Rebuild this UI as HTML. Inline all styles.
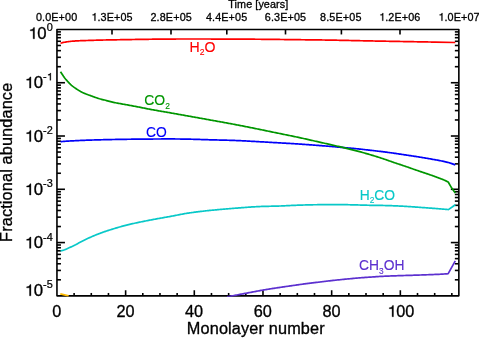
<!DOCTYPE html>
<html><head><meta charset="utf-8"><title>plot</title>
<style>
html,body{margin:0;padding:0;background:#fff;}
body{width:479px;height:338px;overflow:hidden;}
svg{display:block;will-change:transform;transform:translateZ(0);}
text{font-family:"Liberation Sans",sans-serif;fill:#000;stroke:#000;stroke-width:0.32px;stroke-linejoin:round;}
.big{font-size:16.3px;}
.one{fill:none;stroke:none;}
.sup{font-size:10.6px;stroke-width:0.25px;}
.sm{font-size:10.8px;stroke-width:0.3px;}
.lab{font-size:14.1px;}
.sub{font-size:8.5px;}
</style></head><body>
<svg width="479" height="338" viewBox="0 0 479 338">
<rect x="0" y="0" width="479" height="338" fill="#ffffff"/>
<defs><clipPath id="cp"><rect x="56.95" y="29.45" width="401.90000000000003" height="267.20000000000005"/></clipPath></defs>

<g stroke="#000" stroke-width="1.6" fill="none" stroke-linecap="butt" stroke-linejoin="round">
<rect x="56.95" y="29.45" width="401.90" height="266.40"/>
<path d="M74.12,295.85 V292.95"/>
<path d="M91.29,295.85 V292.95"/>
<path d="M108.46,295.85 V292.95"/>
<path d="M125.63,295.85 V290.25"/>
<path d="M142.80,295.85 V292.95"/>
<path d="M159.97,295.85 V292.95"/>
<path d="M177.14,295.85 V292.95"/>
<path d="M194.30,295.85 V290.25"/>
<path d="M211.47,295.85 V292.95"/>
<path d="M228.64,295.85 V292.95"/>
<path d="M245.81,295.85 V292.95"/>
<path d="M262.98,295.85 V290.25"/>
<path d="M280.15,295.85 V292.95"/>
<path d="M297.32,295.85 V292.95"/>
<path d="M314.49,295.85 V292.95"/>
<path d="M331.66,295.85 V290.25"/>
<path d="M348.83,295.85 V292.95"/>
<path d="M366.00,295.85 V292.95"/>
<path d="M383.17,295.85 V292.95"/>
<path d="M400.34,295.85 V290.25"/>
<path d="M417.51,295.85 V292.95"/>
<path d="M434.68,295.85 V292.95"/>
<path d="M451.84,295.85 V292.95"/>
<path d="M112.00,29.45 V34.45"/>
<path d="M171.00,29.45 V34.45"/>
<path d="M226.80,29.45 V34.45"/>
<path d="M285.50,29.45 V34.45"/>
<path d="M341.40,29.45 V34.45"/>
<path d="M400.00,29.45 V34.45"/>
<path d="M56.95,66.69 H60.95"/>
<path d="M458.85,66.69 H454.85"/>
<path d="M56.95,57.31 H60.95"/>
<path d="M458.85,57.31 H454.85"/>
<path d="M56.95,50.65 H60.95"/>
<path d="M458.85,50.65 H454.85"/>
<path d="M56.95,45.49 H60.95"/>
<path d="M458.85,45.49 H454.85"/>
<path d="M56.95,41.27 H60.95"/>
<path d="M458.85,41.27 H454.85"/>
<path d="M56.95,37.70 H60.95"/>
<path d="M458.85,37.70 H454.85"/>
<path d="M56.95,34.61 H60.95"/>
<path d="M458.85,34.61 H454.85"/>
<path d="M56.95,31.89 H60.95"/>
<path d="M458.85,31.89 H454.85"/>
<path d="M56.95,82.73 H64.95"/>
<path d="M458.85,82.73 H450.85"/>
<path d="M56.95,119.97 H60.95"/>
<path d="M458.85,119.97 H454.85"/>
<path d="M56.95,110.59 H60.95"/>
<path d="M458.85,110.59 H454.85"/>
<path d="M56.95,103.93 H60.95"/>
<path d="M458.85,103.93 H454.85"/>
<path d="M56.95,98.77 H60.95"/>
<path d="M458.85,98.77 H454.85"/>
<path d="M56.95,94.55 H60.95"/>
<path d="M458.85,94.55 H454.85"/>
<path d="M56.95,90.98 H60.95"/>
<path d="M458.85,90.98 H454.85"/>
<path d="M56.95,87.89 H60.95"/>
<path d="M458.85,87.89 H454.85"/>
<path d="M56.95,85.17 H60.95"/>
<path d="M458.85,85.17 H454.85"/>
<path d="M56.95,136.01 H64.95"/>
<path d="M458.85,136.01 H450.85"/>
<path d="M56.95,173.25 H60.95"/>
<path d="M458.85,173.25 H454.85"/>
<path d="M56.95,163.87 H60.95"/>
<path d="M458.85,163.87 H454.85"/>
<path d="M56.95,157.21 H60.95"/>
<path d="M458.85,157.21 H454.85"/>
<path d="M56.95,152.05 H60.95"/>
<path d="M458.85,152.05 H454.85"/>
<path d="M56.95,147.83 H60.95"/>
<path d="M458.85,147.83 H454.85"/>
<path d="M56.95,144.26 H60.95"/>
<path d="M458.85,144.26 H454.85"/>
<path d="M56.95,141.17 H60.95"/>
<path d="M458.85,141.17 H454.85"/>
<path d="M56.95,138.45 H60.95"/>
<path d="M458.85,138.45 H454.85"/>
<path d="M56.95,189.29 H64.95"/>
<path d="M458.85,189.29 H450.85"/>
<path d="M56.95,226.53 H60.95"/>
<path d="M458.85,226.53 H454.85"/>
<path d="M56.95,217.15 H60.95"/>
<path d="M458.85,217.15 H454.85"/>
<path d="M56.95,210.49 H60.95"/>
<path d="M458.85,210.49 H454.85"/>
<path d="M56.95,205.33 H60.95"/>
<path d="M458.85,205.33 H454.85"/>
<path d="M56.95,201.11 H60.95"/>
<path d="M458.85,201.11 H454.85"/>
<path d="M56.95,197.54 H60.95"/>
<path d="M458.85,197.54 H454.85"/>
<path d="M56.95,194.45 H60.95"/>
<path d="M458.85,194.45 H454.85"/>
<path d="M56.95,191.73 H60.95"/>
<path d="M458.85,191.73 H454.85"/>
<path d="M56.95,242.57 H64.95"/>
<path d="M458.85,242.57 H450.85"/>
<path d="M56.95,279.81 H60.95"/>
<path d="M458.85,279.81 H454.85"/>
<path d="M56.95,270.43 H60.95"/>
<path d="M458.85,270.43 H454.85"/>
<path d="M56.95,263.77 H60.95"/>
<path d="M458.85,263.77 H454.85"/>
<path d="M56.95,258.61 H60.95"/>
<path d="M458.85,258.61 H454.85"/>
<path d="M56.95,254.39 H60.95"/>
<path d="M458.85,254.39 H454.85"/>
<path d="M56.95,250.82 H60.95"/>
<path d="M458.85,250.82 H454.85"/>
<path d="M56.95,247.73 H60.95"/>
<path d="M458.85,247.73 H454.85"/>
<path d="M56.95,245.01 H60.95"/>
<path d="M458.85,245.01 H454.85"/>
</g>
<g fill="none" stroke-width="1.7" stroke-linejoin="round" stroke-linecap="butt" clip-path="url(#cp)">
<path d="M60.30,293.90 L68.60,295.85" stroke="#ffbb00"/>
<path d="M227.00,296.90 L228.00,296.70 L229.00,296.51 L230.00,296.31 L231.00,296.11 L232.00,295.92 L233.00,295.73 L234.00,295.53 L235.00,295.34 L236.00,295.15 L237.00,294.97 L238.00,294.78 L239.00,294.59 L240.00,294.40 L241.00,294.21 L242.00,294.02 L243.00,293.84 L244.00,293.65 L245.00,293.46 L246.00,293.27 L247.00,293.08 L248.00,292.89 L249.00,292.70 L250.00,292.51 L251.00,292.31 L252.00,292.12 L253.00,291.93 L254.00,291.73 L255.00,291.54 L256.00,291.35 L257.00,291.16 L258.00,290.97 L259.00,290.79 L260.00,290.60 L261.00,290.43 L262.00,290.25 L263.00,290.07 L264.00,289.90 L265.00,289.73 L266.00,289.57 L267.00,289.40 L268.00,289.24 L269.00,289.08 L270.00,288.92 L271.00,288.76 L272.00,288.60 L273.00,288.44 L274.00,288.29 L275.00,288.14 L276.00,287.99 L277.00,287.84 L278.00,287.69 L279.00,287.55 L280.00,287.40 L281.00,287.25 L282.00,287.11 L283.00,286.96 L284.00,286.82 L285.00,286.67 L286.00,286.53 L287.00,286.38 L288.00,286.24 L289.00,286.09 L290.00,285.95 L291.00,285.80 L292.00,285.66 L293.00,285.51 L294.00,285.37 L295.00,285.23 L296.00,285.08 L297.00,284.94 L298.00,284.80 L299.00,284.66 L300.00,284.52 L301.00,284.38 L302.00,284.24 L303.00,284.10 L304.00,283.96 L305.00,283.83 L306.00,283.69 L307.00,283.56 L308.00,283.43 L309.00,283.30 L310.00,283.17 L311.00,283.05 L312.00,282.93 L313.00,282.81 L314.00,282.69 L315.00,282.58 L316.00,282.46 L317.00,282.35 L318.00,282.23 L319.00,282.12 L320.00,282.00 L321.00,281.88 L322.00,281.76 L323.00,281.64 L324.00,281.52 L325.00,281.40 L326.00,281.27 L327.00,281.15 L328.00,281.03 L329.00,280.92 L330.00,280.80 L331.00,280.69 L332.00,280.57 L333.00,280.46 L334.00,280.35 L335.00,280.25 L336.00,280.14 L337.00,280.03 L338.00,279.93 L339.00,279.83 L340.00,279.72 L341.00,279.62 L342.00,279.52 L343.00,279.42 L344.00,279.32 L345.00,279.22 L346.00,279.12 L347.00,279.02 L348.00,278.92 L349.00,278.82 L350.00,278.73 L351.00,278.63 L352.00,278.54 L353.00,278.44 L354.00,278.35 L355.00,278.26 L356.00,278.17 L357.00,278.08 L358.00,278.00 L359.00,277.92 L360.00,277.84 L361.00,277.76 L362.00,277.69 L363.00,277.61 L364.00,277.54 L365.00,277.47 L366.00,277.40 L367.00,277.33 L368.00,277.26 L369.00,277.19 L370.00,277.12 L371.00,277.05 L372.00,276.98 L373.00,276.92 L374.00,276.85 L375.00,276.78 L376.00,276.71 L377.00,276.65 L378.00,276.59 L379.00,276.52 L380.00,276.46 L381.00,276.41 L382.00,276.35 L383.00,276.30 L384.00,276.25 L385.00,276.20 L386.00,276.16 L387.00,276.12 L388.00,276.07 L389.00,276.03 L390.00,276.00 L391.00,275.96 L392.00,275.92 L393.00,275.89 L394.00,275.85 L395.00,275.82 L396.00,275.78 L397.00,275.75 L398.00,275.72 L399.00,275.68 L400.00,275.65 L401.00,275.62 L402.00,275.59 L403.00,275.56 L404.00,275.52 L405.00,275.49 L406.00,275.46 L407.00,275.43 L408.00,275.40 L409.00,275.37 L410.00,275.34 L411.00,275.31 L412.00,275.28 L413.00,275.24 L414.00,275.21 L415.00,275.18 L416.00,275.15 L417.00,275.12 L418.00,275.09 L419.00,275.05 L420.00,275.02 L421.00,274.99 L422.00,274.95 L423.00,274.92 L424.00,274.88 L425.00,274.85 L426.00,274.81 L427.00,274.77 L428.00,274.74 L429.00,274.70 L430.00,274.66 L431.00,274.62 L432.00,274.58 L433.00,274.54 L434.00,274.50 L435.00,274.46 L436.00,274.41 L437.00,274.37 L438.00,274.32 L439.00,274.28 L440.00,274.23 L441.00,274.17 L442.00,274.12 L443.00,274.06 L444.00,274.00 L445.00,273.93 L446.00,273.86 L447.00,273.79 L448.00,273.72 L448.20,273.70 L451.80,267.20 L455.30,260.80" stroke="#5c30cf"/>
<path d="M60.60,250.90 L61.60,250.67 L62.60,250.41 L63.60,250.12 L64.60,249.78 L65.60,249.41 L66.60,248.98 L67.60,248.53 L68.60,248.06 L69.60,247.59 L70.60,247.12 L71.60,246.65 L72.60,246.17 L73.60,245.69 L74.60,245.20 L75.60,244.70 L76.60,244.17 L77.60,243.63 L78.60,243.09 L79.60,242.54 L80.60,242.01 L81.60,241.49 L82.60,240.98 L83.60,240.47 L84.60,239.98 L85.60,239.49 L86.60,239.01 L87.60,238.55 L88.60,238.09 L89.60,237.63 L90.60,237.19 L91.60,236.74 L92.60,236.31 L93.60,235.88 L94.60,235.46 L95.60,235.04 L96.60,234.64 L97.60,234.24 L98.60,233.85 L99.60,233.46 L100.60,233.09 L101.60,232.72 L102.60,232.36 L103.60,232.01 L104.60,231.67 L105.60,231.33 L106.60,231.00 L107.60,230.67 L108.60,230.35 L109.60,230.03 L110.60,229.71 L111.60,229.40 L112.60,229.09 L113.60,228.79 L114.60,228.48 L115.60,228.18 L116.60,227.88 L117.60,227.59 L118.60,227.30 L119.60,227.01 L120.60,226.72 L121.60,226.44 L122.60,226.17 L123.60,225.90 L124.60,225.63 L125.60,225.37 L126.60,225.12 L127.60,224.87 L128.60,224.62 L129.60,224.38 L130.60,224.15 L131.60,223.91 L132.60,223.68 L133.60,223.46 L134.60,223.24 L135.60,223.02 L136.60,222.80 L137.60,222.59 L138.60,222.37 L139.60,222.16 L140.60,221.96 L141.60,221.75 L142.60,221.55 L143.60,221.35 L144.60,221.16 L145.60,220.96 L146.60,220.77 L147.60,220.57 L148.60,220.38 L149.60,220.19 L150.60,220.00 L151.60,219.81 L152.60,219.62 L153.60,219.44 L154.60,219.25 L155.60,219.07 L156.60,218.88 L157.60,218.70 L158.60,218.52 L159.60,218.34 L160.60,218.16 L161.60,217.98 L162.60,217.81 L163.60,217.63 L164.60,217.45 L165.60,217.28 L166.60,217.11 L167.60,216.93 L168.60,216.75 L169.60,216.57 L170.60,216.39 L171.60,216.20 L172.60,216.01 L173.60,215.81 L174.60,215.61 L175.60,215.42 L176.60,215.22 L177.60,215.02 L178.60,214.82 L179.60,214.62 L180.60,214.43 L181.60,214.24 L182.60,214.05 L183.60,213.87 L184.60,213.70 L185.60,213.53 L186.60,213.37 L187.60,213.21 L188.60,213.06 L189.60,212.91 L190.60,212.76 L191.60,212.62 L192.60,212.48 L193.60,212.34 L194.60,212.20 L195.60,212.07 L196.60,211.94 L197.60,211.82 L198.60,211.69 L199.60,211.57 L200.60,211.45 L201.60,211.33 L202.60,211.22 L203.60,211.11 L204.60,211.00 L205.60,210.89 L206.60,210.78 L207.60,210.68 L208.60,210.57 L209.60,210.47 L210.60,210.37 L211.60,210.27 L212.60,210.17 L213.60,210.08 L214.60,209.98 L215.60,209.89 L216.60,209.79 L217.60,209.70 L218.60,209.61 L219.60,209.52 L220.60,209.43 L221.60,209.35 L222.60,209.26 L223.60,209.17 L224.60,209.09 L225.60,209.00 L226.60,208.92 L227.60,208.84 L228.60,208.76 L229.60,208.67 L230.60,208.59 L231.60,208.51 L232.60,208.43 L233.60,208.35 L234.60,208.27 L235.60,208.19 L236.60,208.11 L237.60,208.03 L238.60,207.95 L239.60,207.87 L240.60,207.79 L241.60,207.71 L242.60,207.63 L243.60,207.55 L244.60,207.48 L245.60,207.40 L246.60,207.32 L247.60,207.25 L248.60,207.18 L249.60,207.11 L250.60,207.04 L251.60,206.97 L252.60,206.91 L253.60,206.85 L254.60,206.79 L255.60,206.73 L256.60,206.68 L257.60,206.63 L258.60,206.58 L259.60,206.54 L260.60,206.50 L261.60,206.46 L262.60,206.43 L263.60,206.40 L264.60,206.37 L265.60,206.35 L266.60,206.32 L267.60,206.30 L268.60,206.28 L269.60,206.26 L270.60,206.24 L271.60,206.22 L272.60,206.19 L273.60,206.17 L274.60,206.15 L275.60,206.13 L276.60,206.10 L277.60,206.07 L278.60,206.05 L279.60,206.01 L280.60,205.98 L281.60,205.94 L282.60,205.90 L283.60,205.85 L284.60,205.81 L285.60,205.76 L286.60,205.71 L287.60,205.66 L288.60,205.61 L289.60,205.56 L290.60,205.51 L291.60,205.46 L292.60,205.41 L293.60,205.37 L294.60,205.32 L295.60,205.28 L296.60,205.25 L297.60,205.21 L298.60,205.18 L299.60,205.14 L300.60,205.11 L301.60,205.07 L302.60,205.04 L303.60,205.01 L304.60,204.98 L305.60,204.95 L306.60,204.93 L307.60,204.90 L308.60,204.88 L309.60,204.85 L310.60,204.83 L311.60,204.81 L312.60,204.79 L313.60,204.77 L314.60,204.76 L315.60,204.74 L316.60,204.73 L317.60,204.72 L318.60,204.71 L319.60,204.70 L320.60,204.70 L321.60,204.69 L322.60,204.69 L323.60,204.68 L324.60,204.68 L325.60,204.68 L326.60,204.67 L327.60,204.67 L328.60,204.67 L329.60,204.66 L330.60,204.66 L331.60,204.66 L332.60,204.66 L333.60,204.66 L334.60,204.66 L335.60,204.66 L336.60,204.66 L337.60,204.66 L338.60,204.67 L339.60,204.67 L340.60,204.67 L341.60,204.68 L342.60,204.68 L343.60,204.69 L344.60,204.69 L345.60,204.70 L346.60,204.71 L347.60,204.72 L348.60,204.74 L349.60,204.76 L350.60,204.78 L351.60,204.80 L352.60,204.83 L353.60,204.85 L354.60,204.88 L355.60,204.91 L356.60,204.94 L357.60,204.96 L358.60,204.99 L359.60,205.02 L360.60,205.04 L361.60,205.07 L362.60,205.10 L363.60,205.13 L364.60,205.15 L365.60,205.18 L366.60,205.21 L367.60,205.23 L368.60,205.26 L369.60,205.28 L370.60,205.30 L371.60,205.32 L372.60,205.33 L373.60,205.35 L374.60,205.36 L375.60,205.38 L376.60,205.39 L377.60,205.40 L378.60,205.41 L379.60,205.43 L380.60,205.44 L381.60,205.45 L382.60,205.47 L383.60,205.49 L384.60,205.51 L385.60,205.53 L386.60,205.56 L387.60,205.58 L388.60,205.61 L389.60,205.64 L390.60,205.67 L391.60,205.71 L392.60,205.75 L393.60,205.79 L394.60,205.83 L395.60,205.87 L396.60,205.91 L397.60,205.96 L398.60,206.01 L399.60,206.05 L400.60,206.10 L401.60,206.16 L402.60,206.21 L403.60,206.26 L404.60,206.32 L405.60,206.38 L406.60,206.44 L407.60,206.50 L408.60,206.56 L409.60,206.62 L410.60,206.68 L411.60,206.75 L412.60,206.82 L413.60,206.90 L414.60,206.97 L415.60,207.05 L416.60,207.12 L417.60,207.20 L418.60,207.27 L419.60,207.34 L420.60,207.42 L421.60,207.49 L422.60,207.56 L423.60,207.63 L424.60,207.70 L425.60,207.77 L426.60,207.84 L427.60,207.92 L428.60,207.99 L429.60,208.06 L430.60,208.13 L431.60,208.21 L432.60,208.28 L433.60,208.36 L434.60,208.43 L435.60,208.51 L436.60,208.58 L437.60,208.66 L438.60,208.74 L439.60,208.82 L440.60,208.90 L441.60,208.99 L442.60,209.07 L443.60,209.16 L444.60,209.24 L445.60,209.34 L446.60,209.43 L447.60,209.52 L448.40,209.60 L451.80,207.30 L455.30,204.80" stroke="#08c8c8"/>
<path d="M60.60,141.70 L61.60,141.61 L62.60,141.52 L63.60,141.44 L64.60,141.35 L65.60,141.27 L66.60,141.20 L67.60,141.13 L68.60,141.06 L69.60,141.00 L70.60,140.94 L71.60,140.88 L72.60,140.83 L73.60,140.78 L74.60,140.73 L75.60,140.68 L76.60,140.63 L77.60,140.59 L78.60,140.54 L79.60,140.50 L80.60,140.45 L81.60,140.41 L82.60,140.37 L83.60,140.33 L84.60,140.29 L85.60,140.25 L86.60,140.21 L87.60,140.18 L88.60,140.14 L89.60,140.11 L90.60,140.08 L91.60,140.05 L92.60,140.01 L93.60,139.98 L94.60,139.95 L95.60,139.93 L96.60,139.90 L97.60,139.87 L98.60,139.84 L99.60,139.82 L100.60,139.79 L101.60,139.77 L102.60,139.74 L103.60,139.72 L104.60,139.70 L105.60,139.67 L106.60,139.65 L107.60,139.63 L108.60,139.61 L109.60,139.58 L110.60,139.56 L111.60,139.54 L112.60,139.52 L113.60,139.50 L114.60,139.48 L115.60,139.46 L116.60,139.44 L117.60,139.43 L118.60,139.41 L119.60,139.39 L120.60,139.37 L121.60,139.36 L122.60,139.34 L123.60,139.33 L124.60,139.31 L125.60,139.30 L126.60,139.29 L127.60,139.27 L128.60,139.26 L129.60,139.25 L130.60,139.23 L131.60,139.22 L132.60,139.21 L133.60,139.20 L134.60,139.19 L135.60,139.18 L136.60,139.17 L137.60,139.16 L138.60,139.15 L139.60,139.14 L140.60,139.13 L141.60,139.12 L142.60,139.11 L143.60,139.10 L144.60,139.09 L145.60,139.08 L146.60,139.08 L147.60,139.07 L148.60,139.06 L149.60,139.05 L150.60,139.05 L151.60,139.04 L152.60,139.03 L153.60,139.02 L154.60,139.02 L155.60,139.01 L156.60,139.00 L157.60,138.99 L158.60,138.99 L159.60,138.98 L160.60,138.98 L161.60,138.97 L162.60,138.97 L163.60,138.96 L164.60,138.96 L165.60,138.95 L166.60,138.95 L167.60,138.95 L168.60,138.95 L169.60,138.95 L170.60,138.95 L171.60,138.95 L172.60,138.96 L173.60,138.96 L174.60,138.97 L175.60,138.98 L176.60,138.98 L177.60,138.99 L178.60,139.01 L179.60,139.02 L180.60,139.03 L181.60,139.04 L182.60,139.06 L183.60,139.07 L184.60,139.09 L185.60,139.11 L186.60,139.13 L187.60,139.15 L188.60,139.17 L189.60,139.19 L190.60,139.21 L191.60,139.24 L192.60,139.27 L193.60,139.29 L194.60,139.32 L195.60,139.35 L196.60,139.38 L197.60,139.41 L198.60,139.44 L199.60,139.47 L200.60,139.51 L201.60,139.54 L202.60,139.57 L203.60,139.60 L204.60,139.63 L205.60,139.66 L206.60,139.69 L207.60,139.72 L208.60,139.75 L209.60,139.78 L210.60,139.81 L211.60,139.84 L212.60,139.86 L213.60,139.89 L214.60,139.91 L215.60,139.94 L216.60,139.96 L217.60,139.99 L218.60,140.01 L219.60,140.04 L220.60,140.06 L221.60,140.09 L222.60,140.11 L223.60,140.14 L224.60,140.16 L225.60,140.19 L226.60,140.22 L227.60,140.24 L228.60,140.27 L229.60,140.30 L230.60,140.33 L231.60,140.36 L232.60,140.40 L233.60,140.43 L234.60,140.47 L235.60,140.50 L236.60,140.54 L237.60,140.58 L238.60,140.62 L239.60,140.67 L240.60,140.71 L241.60,140.76 L242.60,140.81 L243.60,140.86 L244.60,140.91 L245.60,140.96 L246.60,141.01 L247.60,141.07 L248.60,141.12 L249.60,141.18 L250.60,141.23 L251.60,141.29 L252.60,141.35 L253.60,141.40 L254.60,141.46 L255.60,141.52 L256.60,141.57 L257.60,141.63 L258.60,141.69 L259.60,141.74 L260.60,141.80 L261.60,141.86 L262.60,141.91 L263.60,141.97 L264.60,142.02 L265.60,142.08 L266.60,142.14 L267.60,142.19 L268.60,142.25 L269.60,142.31 L270.60,142.36 L271.60,142.42 L272.60,142.48 L273.60,142.53 L274.60,142.59 L275.60,142.65 L276.60,142.71 L277.60,142.76 L278.60,142.82 L279.60,142.88 L280.60,142.93 L281.60,142.99 L282.60,143.05 L283.60,143.11 L284.60,143.16 L285.60,143.22 L286.60,143.28 L287.60,143.34 L288.60,143.40 L289.60,143.46 L290.60,143.52 L291.60,143.58 L292.60,143.64 L293.60,143.70 L294.60,143.76 L295.60,143.83 L296.60,143.89 L297.60,143.96 L298.60,144.02 L299.60,144.09 L300.60,144.16 L301.60,144.22 L302.60,144.29 L303.60,144.36 L304.60,144.43 L305.60,144.50 L306.60,144.57 L307.60,144.64 L308.60,144.72 L309.60,144.79 L310.60,144.86 L311.60,144.94 L312.60,145.01 L313.60,145.09 L314.60,145.16 L315.60,145.24 L316.60,145.31 L317.60,145.39 L318.60,145.47 L319.60,145.55 L320.60,145.62 L321.60,145.70 L322.60,145.78 L323.60,145.86 L324.60,145.94 L325.60,146.02 L326.60,146.10 L327.60,146.19 L328.60,146.27 L329.60,146.35 L330.60,146.43 L331.60,146.52 L332.60,146.60 L333.60,146.69 L334.60,146.77 L335.60,146.86 L336.60,146.94 L337.60,147.03 L338.60,147.12 L339.60,147.20 L340.60,147.29 L341.60,147.38 L342.60,147.46 L343.60,147.55 L344.60,147.64 L345.60,147.73 L346.60,147.82 L347.60,147.91 L348.60,148.00 L349.60,148.09 L350.60,148.18 L351.60,148.27 L352.60,148.37 L353.60,148.46 L354.60,148.56 L355.60,148.66 L356.60,148.76 L357.60,148.86 L358.60,148.96 L359.60,149.06 L360.60,149.17 L361.60,149.28 L362.60,149.39 L363.60,149.50 L364.60,149.61 L365.60,149.73 L366.60,149.84 L367.60,149.95 L368.60,150.07 L369.60,150.19 L370.60,150.30 L371.60,150.41 L372.60,150.53 L373.60,150.64 L374.60,150.76 L375.60,150.87 L376.60,150.99 L377.60,151.10 L378.60,151.22 L379.60,151.34 L380.60,151.46 L381.60,151.58 L382.60,151.70 L383.60,151.82 L384.60,151.95 L385.60,152.08 L386.60,152.21 L387.60,152.34 L388.60,152.48 L389.60,152.61 L390.60,152.75 L391.60,152.89 L392.60,153.03 L393.60,153.17 L394.60,153.31 L395.60,153.46 L396.60,153.60 L397.60,153.75 L398.60,153.90 L399.60,154.04 L400.60,154.19 L401.60,154.34 L402.60,154.49 L403.60,154.64 L404.60,154.79 L405.60,154.94 L406.60,155.09 L407.60,155.24 L408.60,155.39 L409.60,155.55 L410.60,155.70 L411.60,155.85 L412.60,156.00 L413.60,156.15 L414.60,156.31 L415.60,156.46 L416.60,156.62 L417.60,156.78 L418.60,156.94 L419.60,157.10 L420.60,157.26 L421.60,157.42 L422.60,157.59 L423.60,157.75 L424.60,157.92 L425.60,158.08 L426.60,158.25 L427.60,158.42 L428.60,158.60 L429.60,158.77 L430.60,158.94 L431.60,159.12 L432.60,159.29 L433.60,159.47 L434.60,159.65 L435.60,159.83 L436.60,160.01 L437.60,160.20 L438.60,160.39 L439.60,160.58 L440.60,160.77 L441.60,160.97 L442.60,161.18 L443.60,161.39 L444.60,161.61 L445.60,161.84 L446.60,162.07 L447.60,162.31 L448.40,162.50 L451.80,163.60 L455.30,164.90" stroke="#0000fa"/>
<path d="M60.50,71.70 L61.50,73.26 L62.50,74.80 L63.50,76.32 L64.50,77.73 L65.50,78.99 L66.50,80.14 L67.50,81.25 L68.50,82.35 L69.50,83.41 L70.50,84.40 L71.50,85.29 L72.50,86.11 L73.50,86.88 L74.50,87.61 L75.50,88.30 L76.50,88.97 L77.50,89.62 L78.50,90.26 L79.50,90.86 L80.50,91.42 L81.50,91.94 L82.50,92.44 L83.50,92.90 L84.50,93.35 L85.50,93.77 L86.50,94.18 L87.50,94.57 L88.50,94.94 L89.50,95.30 L90.50,95.66 L91.50,96.01 L92.50,96.36 L93.50,96.73 L94.50,97.09 L95.50,97.46 L96.50,97.81 L97.50,98.16 L98.50,98.48 L99.50,98.78 L100.50,99.05 L101.50,99.31 L102.50,99.56 L103.50,99.80 L104.50,100.05 L105.50,100.30 L106.50,100.56 L107.50,100.83 L108.50,101.09 L109.50,101.36 L110.50,101.61 L111.50,101.87 L112.50,102.11 L113.50,102.34 L114.50,102.55 L115.50,102.76 L116.50,102.96 L117.50,103.16 L118.50,103.35 L119.50,103.53 L120.50,103.71 L121.50,103.89 L122.50,104.07 L123.50,104.24 L124.50,104.42 L125.50,104.60 L126.50,104.78 L127.50,104.96 L128.50,105.14 L129.50,105.32 L130.50,105.50 L131.50,105.68 L132.50,105.87 L133.50,106.05 L134.50,106.24 L135.50,106.42 L136.50,106.61 L137.50,106.80 L138.50,107.00 L139.50,107.19 L140.50,107.39 L141.50,107.59 L142.50,107.80 L143.50,108.00 L144.50,108.20 L145.50,108.40 L146.50,108.60 L147.50,108.80 L148.50,109.00 L149.50,109.19 L150.50,109.38 L151.50,109.57 L152.50,109.75 L153.50,109.93 L154.50,110.10 L155.50,110.28 L156.50,110.45 L157.50,110.62 L158.50,110.80 L159.50,110.97 L160.50,111.14 L161.50,111.31 L162.50,111.48 L163.50,111.65 L164.50,111.83 L165.50,112.00 L166.50,112.17 L167.50,112.35 L168.50,112.53 L169.50,112.70 L170.50,112.88 L171.50,113.06 L172.50,113.23 L173.50,113.41 L174.50,113.59 L175.50,113.77 L176.50,113.94 L177.50,114.12 L178.50,114.30 L179.50,114.48 L180.50,114.66 L181.50,114.84 L182.50,115.02 L183.50,115.20 L184.50,115.37 L185.50,115.55 L186.50,115.73 L187.50,115.91 L188.50,116.09 L189.50,116.27 L190.50,116.45 L191.50,116.63 L192.50,116.81 L193.50,116.99 L194.50,117.17 L195.50,117.34 L196.50,117.52 L197.50,117.70 L198.50,117.88 L199.50,118.06 L200.50,118.24 L201.50,118.42 L202.50,118.60 L203.50,118.78 L204.50,118.96 L205.50,119.14 L206.50,119.32 L207.50,119.50 L208.50,119.68 L209.50,119.86 L210.50,120.04 L211.50,120.22 L212.50,120.40 L213.50,120.57 L214.50,120.75 L215.50,120.93 L216.50,121.11 L217.50,121.29 L218.50,121.47 L219.50,121.65 L220.50,121.83 L221.50,122.01 L222.50,122.19 L223.50,122.38 L224.50,122.56 L225.50,122.74 L226.50,122.92 L227.50,123.11 L228.50,123.29 L229.50,123.47 L230.50,123.66 L231.50,123.85 L232.50,124.03 L233.50,124.22 L234.50,124.41 L235.50,124.60 L236.50,124.79 L237.50,124.98 L238.50,125.18 L239.50,125.37 L240.50,125.56 L241.50,125.76 L242.50,125.95 L243.50,126.15 L244.50,126.35 L245.50,126.55 L246.50,126.75 L247.50,126.95 L248.50,127.15 L249.50,127.35 L250.50,127.55 L251.50,127.75 L252.50,127.95 L253.50,128.15 L254.50,128.36 L255.50,128.56 L256.50,128.76 L257.50,128.97 L258.50,129.17 L259.50,129.38 L260.50,129.58 L261.50,129.78 L262.50,129.99 L263.50,130.19 L264.50,130.40 L265.50,130.61 L266.50,130.81 L267.50,131.02 L268.50,131.23 L269.50,131.44 L270.50,131.64 L271.50,131.85 L272.50,132.06 L273.50,132.26 L274.50,132.47 L275.50,132.68 L276.50,132.88 L277.50,133.09 L278.50,133.29 L279.50,133.50 L280.50,133.70 L281.50,133.91 L282.50,134.11 L283.50,134.31 L284.50,134.51 L285.50,134.71 L286.50,134.91 L287.50,135.12 L288.50,135.32 L289.50,135.52 L290.50,135.72 L291.50,135.93 L292.50,136.14 L293.50,136.34 L294.50,136.55 L295.50,136.76 L296.50,136.98 L297.50,137.19 L298.50,137.41 L299.50,137.62 L300.50,137.84 L301.50,138.06 L302.50,138.28 L303.50,138.50 L304.50,138.72 L305.50,138.95 L306.50,139.17 L307.50,139.40 L308.50,139.62 L309.50,139.85 L310.50,140.07 L311.50,140.30 L312.50,140.53 L313.50,140.75 L314.50,140.98 L315.50,141.21 L316.50,141.44 L317.50,141.66 L318.50,141.89 L319.50,142.12 L320.50,142.35 L321.50,142.57 L322.50,142.80 L323.50,143.02 L324.50,143.25 L325.50,143.48 L326.50,143.70 L327.50,143.93 L328.50,144.15 L329.50,144.38 L330.50,144.61 L331.50,144.83 L332.50,145.06 L333.50,145.29 L334.50,145.52 L335.50,145.75 L336.50,145.98 L337.50,146.21 L338.50,146.44 L339.50,146.68 L340.50,146.91 L341.50,147.14 L342.50,147.38 L343.50,147.62 L344.50,147.86 L345.50,148.10 L346.50,148.34 L347.50,148.58 L348.50,148.82 L349.50,149.07 L350.50,149.32 L351.50,149.56 L352.50,149.81 L353.50,150.07 L354.50,150.32 L355.50,150.58 L356.50,150.84 L357.50,151.10 L358.50,151.37 L359.50,151.63 L360.50,151.91 L361.50,152.18 L362.50,152.46 L363.50,152.74 L364.50,153.02 L365.50,153.31 L366.50,153.59 L367.50,153.89 L368.50,154.18 L369.50,154.47 L370.50,154.77 L371.50,155.07 L372.50,155.37 L373.50,155.67 L374.50,155.98 L375.50,156.29 L376.50,156.60 L377.50,156.91 L378.50,157.23 L379.50,157.55 L380.50,157.88 L381.50,158.20 L382.50,158.53 L383.50,158.86 L384.50,159.20 L385.50,159.54 L386.50,159.89 L387.50,160.24 L388.50,160.60 L389.50,160.95 L390.50,161.30 L391.50,161.65 L392.50,162.00 L393.50,162.34 L394.50,162.68 L395.50,163.02 L396.50,163.35 L397.50,163.69 L398.50,164.02 L399.50,164.35 L400.50,164.68 L401.50,165.02 L402.50,165.35 L403.50,165.69 L404.50,166.03 L405.50,166.37 L406.50,166.72 L407.50,167.07 L408.50,167.42 L409.50,167.77 L410.50,168.12 L411.50,168.47 L412.50,168.82 L413.50,169.18 L414.50,169.53 L415.50,169.88 L416.50,170.22 L417.50,170.57 L418.50,170.91 L419.50,171.24 L420.50,171.58 L421.50,171.91 L422.50,172.24 L423.50,172.57 L424.50,172.90 L425.50,173.24 L426.50,173.57 L427.50,173.91 L428.50,174.25 L429.50,174.59 L430.50,174.94 L431.50,175.29 L432.50,175.65 L433.50,176.01 L434.50,176.37 L435.50,176.74 L436.50,177.10 L437.50,177.47 L438.50,177.84 L439.50,178.21 L440.50,178.59 L441.50,178.96 L442.50,179.34 L443.50,179.74 L444.50,180.18 L445.50,180.64 L446.50,181.13 L447.50,181.64 L448.20,182.00 L451.70,188.10 L455.30,193.10" stroke="#009600"/>
<path d="M60.50,43.30 L61.50,42.95 L62.50,42.67 L63.50,42.45 L64.50,42.25 L65.50,42.06 L66.50,41.89 L67.50,41.73 L68.50,41.59 L69.50,41.47 L70.50,41.36 L71.50,41.27 L72.50,41.18 L73.50,41.10 L74.50,41.03 L75.50,40.97 L76.50,40.91 L77.50,40.86 L78.50,40.81 L79.50,40.76 L80.50,40.72 L81.50,40.68 L82.50,40.64 L83.50,40.61 L84.50,40.57 L85.50,40.54 L86.50,40.51 L87.50,40.48 L88.50,40.45 L89.50,40.42 L90.50,40.38 L91.50,40.35 L92.50,40.32 L93.50,40.29 L94.50,40.26 L95.50,40.23 L96.50,40.20 L97.50,40.17 L98.50,40.14 L99.50,40.11 L100.50,40.09 L101.50,40.06 L102.50,40.04 L103.50,40.02 L104.50,40.00 L105.50,39.98 L106.50,39.96 L107.50,39.94 L108.50,39.93 L109.50,39.91 L110.50,39.89 L111.50,39.87 L112.50,39.86 L113.50,39.84 L114.50,39.82 L115.50,39.80 L116.50,39.78 L117.50,39.77 L118.50,39.75 L119.50,39.73 L120.50,39.71 L121.50,39.70 L122.50,39.68 L123.50,39.66 L124.50,39.65 L125.50,39.63 L126.50,39.61 L127.50,39.60 L128.50,39.58 L129.50,39.56 L130.50,39.55 L131.50,39.53 L132.50,39.51 L133.50,39.50 L134.50,39.48 L135.50,39.47 L136.50,39.45 L137.50,39.44 L138.50,39.42 L139.50,39.41 L140.50,39.39 L141.50,39.38 L142.50,39.36 L143.50,39.35 L144.50,39.33 L145.50,39.32 L146.50,39.31 L147.50,39.29 L148.50,39.28 L149.50,39.26 L150.50,39.25 L151.50,39.23 L152.50,39.22 L153.50,39.21 L154.50,39.20 L155.50,39.18 L156.50,39.17 L157.50,39.16 L158.50,39.15 L159.50,39.14 L160.50,39.12 L161.50,39.11 L162.50,39.10 L163.50,39.10 L164.50,39.09 L165.50,39.08 L166.50,39.07 L167.50,39.06 L168.50,39.06 L169.50,39.05 L170.50,39.05 L171.50,39.04 L172.50,39.04 L173.50,39.03 L174.50,39.03 L175.50,39.03 L176.50,39.02 L177.50,39.02 L178.50,39.02 L179.50,39.01 L180.50,39.01 L181.50,39.01 L182.50,39.01 L183.50,39.01 L184.50,39.00 L185.50,39.00 L186.50,39.00 L187.50,39.00 L188.50,39.00 L189.50,39.00 L190.50,39.00 L191.50,39.00 L192.50,39.00 L193.50,39.00 L194.50,39.00 L195.50,39.00 L196.50,39.00 L197.50,39.00 L198.50,39.00 L199.50,39.00 L200.50,39.00 L201.50,39.00 L202.50,39.00 L203.50,39.00 L204.50,39.01 L205.50,39.01 L206.50,39.01 L207.50,39.01 L208.50,39.02 L209.50,39.02 L210.50,39.02 L211.50,39.03 L212.50,39.03 L213.50,39.03 L214.50,39.04 L215.50,39.04 L216.50,39.04 L217.50,39.05 L218.50,39.05 L219.50,39.06 L220.50,39.06 L221.50,39.06 L222.50,39.07 L223.50,39.07 L224.50,39.08 L225.50,39.08 L226.50,39.09 L227.50,39.09 L228.50,39.09 L229.50,39.10 L230.50,39.10 L231.50,39.11 L232.50,39.11 L233.50,39.11 L234.50,39.12 L235.50,39.12 L236.50,39.13 L237.50,39.13 L238.50,39.14 L239.50,39.14 L240.50,39.15 L241.50,39.15 L242.50,39.16 L243.50,39.16 L244.50,39.17 L245.50,39.17 L246.50,39.18 L247.50,39.18 L248.50,39.19 L249.50,39.19 L250.50,39.20 L251.50,39.21 L252.50,39.21 L253.50,39.22 L254.50,39.22 L255.50,39.23 L256.50,39.24 L257.50,39.25 L258.50,39.25 L259.50,39.26 L260.50,39.27 L261.50,39.28 L262.50,39.28 L263.50,39.29 L264.50,39.30 L265.50,39.31 L266.50,39.32 L267.50,39.33 L268.50,39.34 L269.50,39.35 L270.50,39.35 L271.50,39.37 L272.50,39.38 L273.50,39.39 L274.50,39.40 L275.50,39.41 L276.50,39.42 L277.50,39.44 L278.50,39.45 L279.50,39.46 L280.50,39.48 L281.50,39.49 L282.50,39.50 L283.50,39.52 L284.50,39.53 L285.50,39.54 L286.50,39.56 L287.50,39.57 L288.50,39.58 L289.50,39.59 L290.50,39.61 L291.50,39.62 L292.50,39.63 L293.50,39.64 L294.50,39.65 L295.50,39.67 L296.50,39.68 L297.50,39.69 L298.50,39.70 L299.50,39.71 L300.50,39.72 L301.50,39.73 L302.50,39.74 L303.50,39.76 L304.50,39.77 L305.50,39.78 L306.50,39.79 L307.50,39.80 L308.50,39.81 L309.50,39.82 L310.50,39.84 L311.50,39.85 L312.50,39.86 L313.50,39.87 L314.50,39.88 L315.50,39.90 L316.50,39.91 L317.50,39.92 L318.50,39.93 L319.50,39.95 L320.50,39.96 L321.50,39.97 L322.50,39.99 L323.50,40.00 L324.50,40.02 L325.50,40.03 L326.50,40.04 L327.50,40.06 L328.50,40.08 L329.50,40.09 L330.50,40.11 L331.50,40.13 L332.50,40.14 L333.50,40.16 L334.50,40.18 L335.50,40.20 L336.50,40.22 L337.50,40.24 L338.50,40.26 L339.50,40.28 L340.50,40.30 L341.50,40.32 L342.50,40.34 L343.50,40.36 L344.50,40.38 L345.50,40.41 L346.50,40.43 L347.50,40.45 L348.50,40.47 L349.50,40.49 L350.50,40.52 L351.50,40.54 L352.50,40.56 L353.50,40.58 L354.50,40.60 L355.50,40.63 L356.50,40.65 L357.50,40.67 L358.50,40.69 L359.50,40.71 L360.50,40.73 L361.50,40.75 L362.50,40.77 L363.50,40.79 L364.50,40.81 L365.50,40.83 L366.50,40.85 L367.50,40.87 L368.50,40.89 L369.50,40.91 L370.50,40.93 L371.50,40.95 L372.50,40.97 L373.50,40.99 L374.50,41.01 L375.50,41.03 L376.50,41.05 L377.50,41.07 L378.50,41.09 L379.50,41.11 L380.50,41.12 L381.50,41.14 L382.50,41.16 L383.50,41.18 L384.50,41.20 L385.50,41.22 L386.50,41.24 L387.50,41.25 L388.50,41.27 L389.50,41.29 L390.50,41.31 L391.50,41.33 L392.50,41.34 L393.50,41.36 L394.50,41.38 L395.50,41.40 L396.50,41.42 L397.50,41.43 L398.50,41.45 L399.50,41.47 L400.50,41.48 L401.50,41.50 L402.50,41.52 L403.50,41.54 L404.50,41.55 L405.50,41.57 L406.50,41.59 L407.50,41.61 L408.50,41.62 L409.50,41.64 L410.50,41.66 L411.50,41.68 L412.50,41.69 L413.50,41.71 L414.50,41.73 L415.50,41.75 L416.50,41.77 L417.50,41.78 L418.50,41.80 L419.50,41.82 L420.50,41.84 L421.50,41.86 L422.50,41.87 L423.50,41.89 L424.50,41.91 L425.50,41.93 L426.50,41.95 L427.50,41.96 L428.50,41.98 L429.50,42.00 L430.50,42.02 L431.50,42.04 L432.50,42.05 L433.50,42.07 L434.50,42.09 L435.00,42.10 L455.30,42.50" stroke="#ff0000"/>
</g>
<text class="lab" transform="translate(189.6,51.9) scale(1.0,1)" style="fill:#ff0000;stroke:#ff0000;stroke-width:0.13px">H<tspan class="sub" dy="3.1">2</tspan><tspan dy="-3.1" font-size="0.1">&#8203;</tspan>O</text>
<text class="lab" transform="translate(144.2,105.4) scale(0.99,1)" style="fill:#009600;stroke:#009600;stroke-width:0.13px">CO<tspan class="sub" dy="3.4">2</tspan><tspan dy="-3.4" font-size="0.1">&#8203;</tspan></text>
<text class="lab" transform="translate(146.1,137.1) scale(0.982,1)" style="fill:#0000fa;stroke:#0000fa;stroke-width:0.13px">CO</text>
<text class="lab" transform="translate(359.7,199.7) scale(0.982,1)" style="fill:#08c8c8;stroke:#08c8c8;stroke-width:0.13px">H<tspan class="sub" dy="3.7">2</tspan><tspan dy="-3.7" font-size="0.1">&#8203;</tspan>CO</text>
<text class="lab" transform="translate(359.1,270.0) scale(0.982,1)" style="fill:#5c30cf;stroke:#5c30cf;stroke-width:0.13px">CH<tspan class="sub" dy="3.7">3</tspan><tspan dy="-3.7" font-size="0.1">&#8203;</tspan>OH</text>
<text class="big" transform="translate(52.8,38.8) scale(1.03,0.97)" text-anchor="end"><tspan class="one">1</tspan>0<tspan class="sup" dy="-8.0">0</tspan></text>
<text class="big" transform="translate(52.8,88.1) scale(1.03,0.97)" text-anchor="end"><tspan class="one">1</tspan>0<tspan class="sup" dy="-8.0">-<tspan class="one">1</tspan></tspan></text>
<text class="big" transform="translate(52.8,141.6) scale(1.03,0.97)" text-anchor="end"><tspan class="one">1</tspan>0<tspan class="sup" dy="-8.0">-2</tspan></text>
<text class="big" transform="translate(52.8,195.0) scale(1.03,0.97)" text-anchor="end"><tspan class="one">1</tspan>0<tspan class="sup" dy="-8.0">-3</tspan></text>
<text class="big" transform="translate(52.8,248.3) scale(1.03,0.97)" text-anchor="end"><tspan class="one">1</tspan>0<tspan class="sup" dy="-8.0">-4</tspan></text>
<text class="big" transform="translate(52.8,295.8) scale(1.03,0.97)" text-anchor="end"><tspan class="one">1</tspan>0<tspan class="sup" dy="-8.0">-5</tspan></text>
<text class="big" transform="translate(56.75,316.7) scale(1,0.975)" text-anchor="middle">0</text>
<text class="big" transform="translate(125.43,316.7) scale(1,0.975)" text-anchor="middle">20</text>
<text class="big" transform="translate(194.10,316.7) scale(1,0.975)" text-anchor="middle">40</text>
<text class="big" transform="translate(262.78,316.7) scale(1,0.975)" text-anchor="middle">60</text>
<text class="big" transform="translate(331.46,316.7) scale(1,0.975)" text-anchor="middle">80</text>
<text class="big" transform="translate(400.84,316.7) scale(1,0.975)" text-anchor="middle"><tspan class="one">1</tspan>00</text>
<text class="sm" x="56.6" y="20.7" text-anchor="middle" letter-spacing="0.13">0.0E+00</text>
<text class="sm" x="112" y="20.7" text-anchor="middle" letter-spacing="0.13"><tspan class="one">1</tspan>.3E+05</text>
<text class="sm" x="171.2" y="20.7" text-anchor="middle" letter-spacing="0.13">2.8E+05</text>
<text class="sm" x="226.6" y="20.7" text-anchor="middle" letter-spacing="0.13">4.4E+05</text>
<text class="sm" x="285.5" y="20.7" text-anchor="middle" letter-spacing="0.13">6.3E+05</text>
<text class="sm" x="340.8" y="20.7" text-anchor="middle" letter-spacing="0.13">8.5E+05</text>
<text class="sm" x="399.8" y="20.7" text-anchor="middle" letter-spacing="0.13"><tspan class="one">1</tspan>.2E+06</text>
<text class="sm" x="459" y="20.7" text-anchor="middle" letter-spacing="0.13"><tspan class="one">1</tspan>.0E+07</text>
<text class="sm" x="258.3" y="7.8" text-anchor="middle" letter-spacing="0.08">Time [years]</text>
<text class="big" transform="translate(255.8,334.2) scale(1,0.98)" text-anchor="middle" letter-spacing="0.14">Monolayer number</text>
<text class="big" transform="translate(12,162.3) rotate(-90) scale(1,0.98)" text-anchor="middle" letter-spacing="0.13">Fractional abundance</text>
<path d="M33.10,38.80 L33.10,30.85 L30.25,30.85 L30.25,29.85 C31.86,29.79 33.25,29.12 33.60,27.59 L34.54,27.59 L34.54,38.80 Z" fill="#000" stroke="#000" stroke-width="0.32" stroke-linejoin="round"/>
<path d="M29.50,88.10 L29.50,80.15 L26.65,80.15 L26.65,79.15 C28.26,79.09 29.65,78.42 30.00,76.89 L30.94,76.89 L30.94,88.10 Z" fill="#000" stroke="#000" stroke-width="0.32" stroke-linejoin="round"/>
<path d="M29.50,141.60 L29.50,133.65 L26.65,133.65 L26.65,132.65 C28.26,132.59 29.65,131.92 30.00,130.39 L30.94,130.39 L30.94,141.60 Z" fill="#000" stroke="#000" stroke-width="0.32" stroke-linejoin="round"/>
<path d="M29.50,195.00 L29.50,187.05 L26.65,187.05 L26.65,186.05 C28.26,185.99 29.65,185.32 30.00,183.79 L30.94,183.79 L30.94,195.00 Z" fill="#000" stroke="#000" stroke-width="0.32" stroke-linejoin="round"/>
<path d="M29.50,248.30 L29.50,240.35 L26.65,240.35 L26.65,239.35 C28.26,239.29 29.65,238.62 30.00,237.09 L30.94,237.09 L30.94,248.30 Z" fill="#000" stroke="#000" stroke-width="0.32" stroke-linejoin="round"/>
<path d="M29.50,295.80 L29.50,287.85 L26.65,287.85 L26.65,286.85 C28.26,286.79 29.65,286.12 30.00,284.59 L30.94,284.59 L30.94,295.80 Z" fill="#000" stroke="#000" stroke-width="0.32" stroke-linejoin="round"/>
<path d="M49.89,80.34 L49.89,75.17 L48.04,75.17 L48.04,74.52 C49.08,74.48 49.99,74.05 50.22,73.05 L50.83,73.05 L50.83,80.34 Z" fill="#000" stroke="#000" stroke-width="0.25" stroke-linejoin="round"/>
<path d="M392.07,316.70 L392.07,308.71 L389.30,308.71 L389.30,307.70 C390.86,307.64 392.21,306.97 392.56,305.43 L393.47,305.43 L393.47,316.70 Z" fill="#000" stroke="#000" stroke-width="0.32" stroke-linejoin="round"/>
<path d="M94.48,20.70 L94.48,15.27 L92.64,15.27 L92.64,14.59 C93.68,14.54 94.58,14.09 94.80,13.04 L95.41,13.04 L95.41,20.70 Z" fill="#000" stroke="#000" stroke-width="0.3" stroke-linejoin="round"/>
<path d="M382.28,20.70 L382.28,15.27 L380.44,15.27 L380.44,14.59 C381.48,14.54 382.38,14.09 382.60,13.04 L383.21,13.04 L383.21,20.70 Z" fill="#000" stroke="#000" stroke-width="0.3" stroke-linejoin="round"/>
<path d="M441.48,20.70 L441.48,15.27 L439.64,15.27 L439.64,14.59 C440.68,14.54 441.58,14.09 441.80,13.04 L442.41,13.04 L442.41,20.70 Z" fill="#000" stroke="#000" stroke-width="0.3" stroke-linejoin="round"/>
</svg></body></html>
